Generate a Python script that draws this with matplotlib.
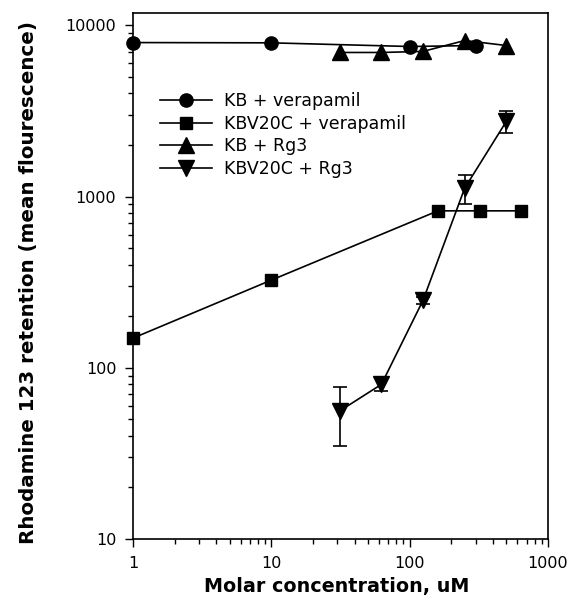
import matplotlib
matplotlib.use("Agg")
import matplotlib.pyplot as plt
from matplotlib.ticker import LogLocator, FixedLocator, FixedFormatter, NullFormatter

plt.rcParams['font.family'] = ['DejaVu Sans']

# Data
kb_ver_x = [1, 10, 100, 300]
kb_ver_y = [7930, 7900, 7520, 7620]

kbv_ver_x = [1, 10, 160, 320, 640]
kbv_ver_y = [149, 325, 825, 825, 825]

kb_rg3_x = [31.25, 62.5, 125, 250, 500]
kb_rg3_y = [6940, 6940, 7040, 8150, 7620]

kbv_rg3_x = [31.25, 62.5, 125, 250, 500]
kbv_rg3_y = [56, 80, 248, 1120, 2750]
kbv_rg3_err = [21, 7, 12, 220, 400]

labels = ["KB + verapamil", "KBV20C + verapamil", "KB + Rg3", "KBV20C + Rg3"]
x_ticks = [1, 10, 100, 1000]
x_ticklabels = ["1", "10", "100", "1000"]
y_ticks = [10, 100, 1000, 10000]
y_ticklabels = ["10", "100", "1000", "10000"]

fig = plt.figure(figsize=(5.75, 6.07), dpi=100)
ax = fig.add_axes([133/575, 1-539/607, 415/575, 526/607])
ax.set_xscale('log')
ax.set_yscale('log')

lw = 1.2
common = dict(color='black', lw=lw, clip_on=False)
h1, = ax.plot(kb_ver_x, kb_ver_y, marker='o', ms=9.5, label=labels[0], **common)
h2, = ax.plot(kbv_ver_x, kbv_ver_y, marker='s', ms=9, label=labels[1], **common)
h3, = ax.plot(kb_rg3_x, kb_rg3_y, marker='^', ms=11, label=labels[2], **common)
eb = ax.errorbar(kbv_rg3_x, kbv_rg3_y, yerr=kbv_rg3_err, marker='v', ms=11,
                 capsize=5, elinewidth=lw, capthick=lw, **common)
h4 = eb[0]
h4.set_label(labels[3])

ax.set_xlim(1, 1000)
ax.set_ylim(10, 11800)

ax.xaxis.set_major_locator(FixedLocator(x_ticks))
ax.xaxis.set_major_formatter(FixedFormatter(x_ticklabels))
ax.yaxis.set_major_locator(FixedLocator(y_ticks))
ax.yaxis.set_major_formatter(FixedFormatter(y_ticklabels))
ax.xaxis.set_minor_locator(LogLocator(base=10, subs=range(2, 10)))
ax.yaxis.set_minor_locator(LogLocator(base=10, subs=range(2, 10)))
ax.xaxis.set_minor_formatter(NullFormatter())
ax.yaxis.set_minor_formatter(NullFormatter())

ax.tick_params(which='major', direction='out', length=6, width=1.0, labelsize=11.5, pad=6,
               top=False, right=False)
ax.tick_params(which='minor', direction='out', length=3.5, width=1.0, top=False, right=False)
for s in ax.spines.values():
    s.set_linewidth(1.2)

ax.set_xlabel("Molar concentration, uM", fontsize=13.8, fontweight='bold')
ax.xaxis.set_label_coords(0.49, -0.072)
ax.set_ylabel("Rhodamine 123 retention (mean flourescence)", fontsize=14.3,
              fontweight='bold')
ax.yaxis.set_label_coords(-0.23, 0.488)

ax.legend(handles=[h1, h2, h3, h4], loc='upper left', bbox_to_anchor=(0.065, 0.849),
          frameon=False, fontsize=12.5, handlelength=3.0, handletextpad=0.7,
          labelspacing=0.26, borderpad=0, borderaxespad=0)

fig.savefig("out.png", dpi=100)
